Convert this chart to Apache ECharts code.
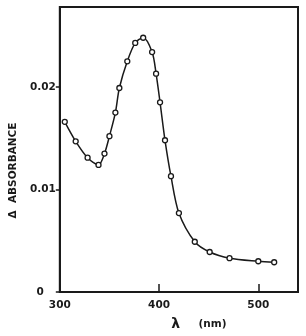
<!DOCTYPE html>
<html>
<head>
<meta charset="utf-8">
<script src="https://cdn.jsdelivr.net/npm/echarts@6/dist/echarts.min.js"></script>
<style>
  html, body { margin: 0; padding: 0; background: #fff; }
  #chart { width: 306px; height: 336px; }
</style>
</head>
<body>
<div id="chart"></div>
<script>
// wavelength (nm) and change in absorbance
const wavelength = [305, 316, 328, 339, 345, 350, 356, 360, 368, 376, 384, 393, 397, 401, 406, 412, 420, 436, 451, 471, 500, 516];
const absorbance = [0.0166, 0.0147, 0.0131, 0.0124, 0.0135, 0.0152, 0.0175, 0.0199, 0.0225, 0.0243, 0.0248, 0.0234, 0.0213, 0.0185, 0.0148, 0.0113, 0.0077, 0.0049, 0.0039, 0.0033, 0.0030, 0.0029];
const yTickLabels = {0: '0', 0.01: '0.01', 0.02: '0.02'};

const chart = echarts.init(document.getElementById('chart'));
const ink = '#1a1a1a';
const font = 'DejaVu Sans';

chart.setOption({
    animation: false,
    grid: {
        left: 55, right: 8, top: 7, bottom: 43,
        show: true, borderColor: ink, borderWidth: 2, backgroundColor: 'transparent'
    },
    xAxis: {
        type: 'value',
        min: 300, max: 540, interval: 100,
        axisLine: {lineStyle: {color: ink, width: 2}},
        axisTick: {inside: true, length: 8, lineStyle: {color: ink, width: 1.5}},
        splitLine: {show: false},
        axisLabel: {
            color: ink, fontFamily: font, fontSize: 10.5, fontWeight: 'bold', margin: 8,
            showMaxLabel: false
        },
        name: '{l|λ}     (nm)',
        nameLocation: 'middle',
        nameGap: 25,
        nameTextStyle: {
            color: ink, fontFamily: font, fontSize: 10.5, fontWeight: 'bold', padding: [0, 0, 0, 40],
            rich: {l: {color: ink, fontFamily: font, fontSize: 14, fontWeight: 'bold'}}
        }
    },
    yAxis: {
        type: 'value',
        min: 0, max: 0.0278, interval: 0.01,
        axisLine: {lineStyle: {color: ink, width: 2}},
        axisTick: {length: 4, lineStyle: {color: ink, width: 1.5}},
        splitLine: {show: false},
        axisLabel: {
            color: ink, fontFamily: font, fontSize: 10.5, fontWeight: 'bold', margin: 4,
            showMaxLabel: false,
            formatter: v => {
                const key = Math.round(v * 100) / 100;
                const s = yTickLabels[key] || '';
                return key === 0 ? '{z|' + s + '}' : s;
            },
            rich: {z: {color: ink, fontFamily: font, fontSize: 10.5, fontWeight: 'bold', padding: [0, 12, 0, 0]}}
        },
        name: 'Δ  ABSORBANCE',
        nameLocation: 'middle',
        nameGap: 40,
        nameTextStyle: {color: ink, fontFamily: font, fontSize: 10.5, fontWeight: 'bold', padding: [0, 42, 0, 0]}
    },
    series: [{
        type: 'line',
        data: wavelength.map((x, i) => [x, absorbance[i]]),
        smooth: 0.3,
        symbol: 'circle',
        symbolSize: 5,
        itemStyle: {color: '#fff', borderColor: ink, borderWidth: 1.3},
        lineStyle: {color: ink, width: 1.5}
    }]
});
</script>
</body>
</html>
